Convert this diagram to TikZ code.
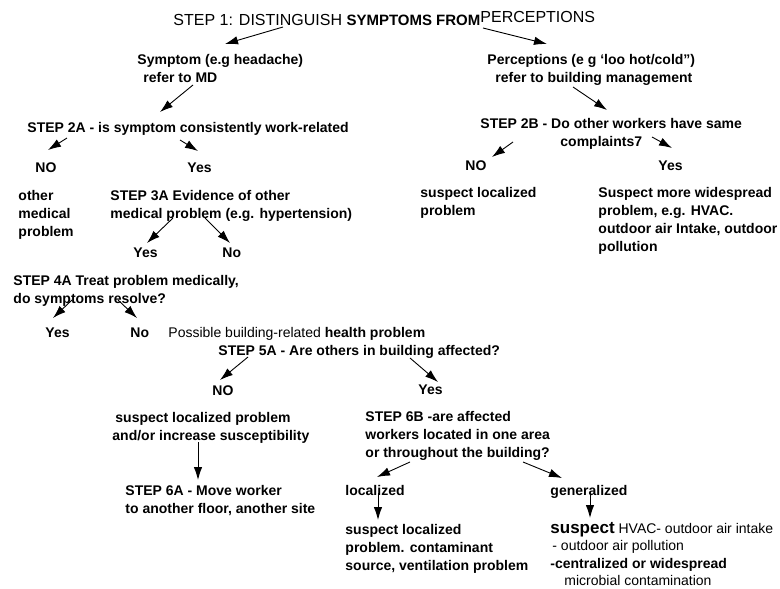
\documentclass[tikz,border=0pt]{standalone}
\usepackage{fontspec}
\setmainfont{Liberation Sans}
\usetikzlibrary{arrows.meta}
% lines stacked downwards, baseline on the first line
\newcommand{\txtlines}[1]{\vtop{\halign{##\hfil\cr#1\crcr}}}

\begin{document}
\begin{tikzpicture}[x=1pt,y=-1pt,line width=0.9pt,
  txt/.style={anchor=base west,inner sep=0pt,
    font=\fontsize{14}{18}\selectfont\bfseries},
  arr/.style={-{Latex[length=13pt,width=8.5pt]}}]
  \useasboundingbox (0,0) rectangle (780,589);

  % step 1
  \node[txt,font=\fontsize{16}{18}\selectfont] (title) at (173,25)
    {STEP 1: DISTINGUISH {\fontsize{15}{18}\selectfont\bfseries SYMPTOMS FROM}\raisebox{2pt}{PERCEPTIONS}};
  \node[txt] (sym) at (137,64) {\txtlines{Symptom (e.g headache)\cr\hspace*{6pt}refer to MD}};
  \node[txt] (perc) at (487,64) {\txtlines{Perceptions (e g ‘loo hot/cold”)\cr\hspace*{8pt}refer to building management}};

  % left branch
  \node[txt] (s2a) at (27,132) {STEP 2A - is symptom consistently work-related};
  \node[txt] (no2a) at (35,172) {NO};
  \node[txt] (yes2a) at (187,172) {Yes};
  \node[txt] (other) at (18,200) {\txtlines{other\cr medical\cr problem}};
  \node[txt] (s3a) at (110,200) {\txtlines{STEP 3A Evidence of other\cr medical problem (e.g. hypertension)}};
  \node[txt] (yes3a) at (133,257) {Yes};
  \node[txt] (no3a) at (222,257) {No};
  \node[txt] (s4a) at (13,285) {\txtlines{STEP 4A Treat problem medically,\cr do symptoms resolve?}};
  \node[txt] (yes4a) at (45,337) {Yes};
  \node[txt] (no4a) at (130,337) {No};
  \node[txt,font=\fontsize{14}{18}\selectfont] (poss) at (168,337) {Possible building-related \textbf{health problem}};
  \node[txt] (s5a) at (218,355) {STEP 5A - Are others in building affected?};
  \node[txt] (no5a) at (212,395) {NO};
  \node[txt] (yes5a) at (418,394) {Yes};
  \node[txt] (loc5a) at (115,422) {\txtlines{suspect localized problem\cr\hspace*{-3pt}and/or increase susceptibility}};
  \node[txt] (s6a) at (125,495) {\txtlines{STEP 6A - Move worker\cr to another floor, another site}};
  \node[txt] (s6b) at (365,421) {\txtlines{STEP 6B -are affected\cr workers located in one area\cr or throughout the building?}};
  \node[txt] (locd) at (345,495) {localized};
  \node[txt] (gen) at (550,495) {generalized};
  \node[txt] (locp) at (345,534) {\txtlines{suspect localized\cr problem. contaminant\cr source, ventilation problem}};
  \node[txt,font=\fontsize{14}{17.5}\selectfont\bfseries] (genp) at (550,533) {\txtlines{{\fontsize{17}{17.5}\selectfont suspect} \mdseries HVAC- outdoor air intake\cr
    \hspace*{2pt}\mdseries- outdoor air pollution\cr -centralized or widespread\cr\hspace*{14pt}\mdseries microbial contamination}};

  % right branch
  \node[txt] (s2b) at (480,128) {\txtlines{STEP 2B - Do other workers have same\cr\hspace*{80pt}complaints7}};
  \node[txt] (no2b) at (465,170) {NO};
  \node[txt] (yes2b) at (658,170) {Yes};
  \node[txt] (loc2b) at (420,197) {\txtlines{suspect localized\cr problem}};
  \node[txt] (wide2b) at (598,197) {\txtlines{Suspect more widespread\cr problem, e.g. HVAC.\cr outdoor air Intake, outdoor\cr pollution}};

  \draw[arr] ([shift={(110,2)}]title.base west) -- ([shift={(88,-20)}]sym.base west);
  \draw[arr] ([shift={(310,3)}]title.base west) -- ([shift={(60,-20)}]perc.base west);
  \draw[arr] ([shift={(56,21)}]sym.base west) -- ([shift={(133,-20)}]s2a.base west);
  \draw[arr] ([shift={(86,23)}]perc.base west) -- ([shift={(127,-18)}]s2b.base west);
  \draw[arr] ([shift={(40,6)}]s2a.base west) -- ([shift={(13,-22)}]no2a.base west);
  \draw[arr] ([shift={(153,8)}]s2a.base west) -- ([shift={(11,-21)}]yes2a.base west);
  \draw[arr] ([shift={(33,14)}]s2b.base west) -- ([shift={(27,-13)}]no2b.base west);
  \draw[arr] ([shift={(172,9)}]s2b.base west) -- ([shift={(14,-22)}]yes2b.base west);
  \draw[arr] ([shift={(63,18)}]s3a.base west) -- ([shift={(14,-14)}]yes3a.base west);
  \draw[arr] ([shift={(95,18)}]s3a.base west) -- ([shift={(8,-14)}]no3a.base west);
  \draw[arr] ([shift={(59,15)}]s4a.base west) -- ([shift={(8,-19)}]yes4a.base west);
  \draw[arr] ([shift={(105,15)}]s4a.base west) -- ([shift={(7,-19)}]no4a.base west);
  \draw[arr] ([shift={(30,2)}]s5a.base west) -- ([shift={(8,-15)}]no5a.base west);
  \draw[arr] ([shift={(192,3)}]s5a.base west) -- ([shift={(20,-12)}]yes5a.base west);
  \draw[arr] ([shift={(83,20)}]loc5a.base west) -- ([shift={(73,-15)}]s6a.base west);
  \draw[arr] ([shift={(45,41)}]s6b.base west) -- ([shift={(32,-18)}]locd.base west);
  \draw[arr] ([shift={(158,41)}]s6b.base west) -- ([shift={(12,-17)}]gen.base west);
  \draw[arr] ([shift={(33,-2)}]locd.base west) -- ([shift={(33,-14)}]locp.base west);
  \draw[arr] ([shift={(40,-2)}]gen.base west) -- ([shift={(40,-15)}]genp.base west);
\end{tikzpicture}
\end{document}
